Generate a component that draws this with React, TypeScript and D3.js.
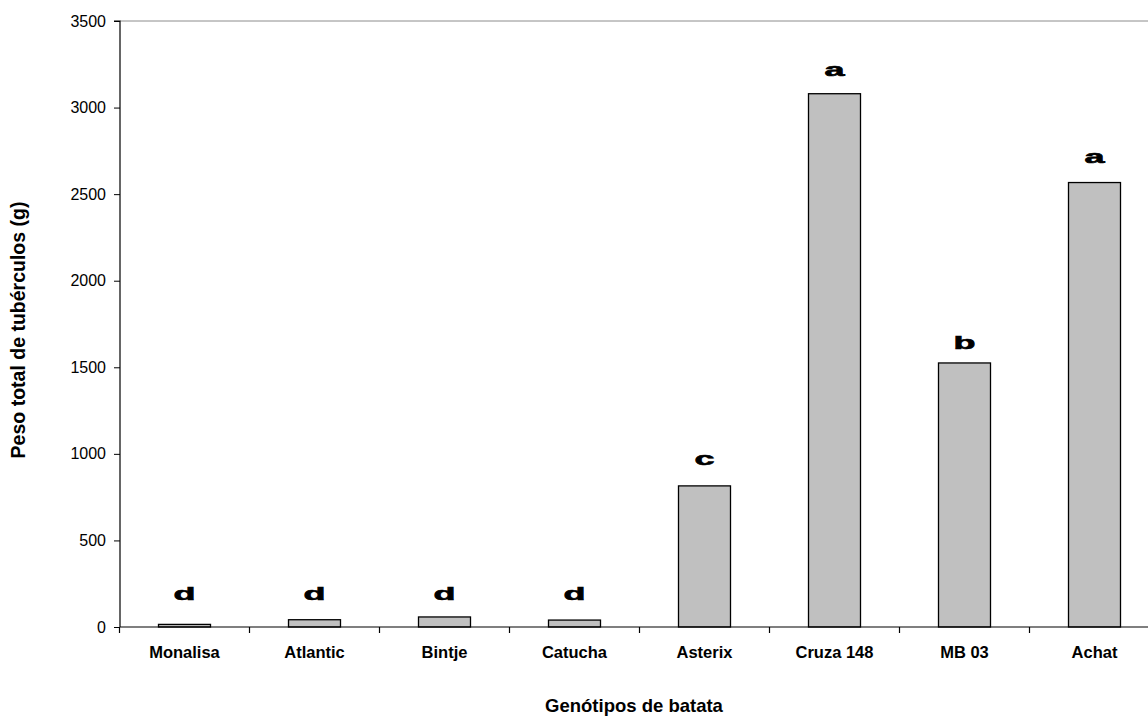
import React, { useEffect, useRef } from "react";
import * as d3 from "d3";

const genotypes = ["Monalisa", "Atlantic", "Bintje", "Catucha", "Asterix", "Cruza 148", "MB 03", "Achat"];
const weights = [15, 42, 58, 40, 815, 3080, 1525, 2567];
const letters = ["d", "d", "d", "d", "c", "a", "b", "a"];
// where each significance letter sits (baseline, in grams)
const letterLevels = [155, 155, 155, 155, 935, 3180, 1605, 2680];
const yTicks = [0, 500, 1000, 1500, 2000, 2500, 3000, 3500];

const FONT = "Liberation Sans, Arial, sans-serif";

const App = () => {
  const chartRef = useRef<SVGSVGElement | null>(null);

  useEffect(() => {
    document.body.style.margin = "0";
    const width = 1148;
    const height = 718;
    const margin = { top: 21, left: 120, bottom: 91 };
    const plotW = 1040; // runs past the right edge, like the original
    const plotBottom = height - margin.bottom;

    const svg = d3.select(chartRef.current);
    svg.selectAll("*").remove();
    svg.attr("width", width).attr("height", height);

    const x = d3.scaleBand().domain(genotypes).range([margin.left - 0.5, margin.left - 0.5 + plotW]);
    const y = d3.scaleLinear().domain([0, 3500]).range([plotBottom, margin.top]);
    const barW = 52;

    // grey top border of plot area
    svg.append("line")
      .attr("x1", margin.left).attr("x2", width)
      .attr("y1", margin.top).attr("y2", margin.top)
      .attr("stroke", "#8c8c8c").attr("stroke-width", 1);

    svg.selectAll("rect.bar")
      .data(weights)
      .enter()
      .append("rect")
      .attr("class", "bar")
      .attr("x", (d, i) => x(genotypes[i])! + x.bandwidth() / 2 - barW / 2)
      .attr("y", (d) => y(d))
      .attr("width", barW)
      .attr("height", (d) => plotBottom - y(d))
      .attr("fill", "#c0c0c0")
      .attr("stroke", "#000")
      .attr("stroke-width", 1.3);

    // y axis
    const yAxis = svg.append("g")
      .attr("transform", `translate(${margin.left},0)`)
      .call(d3.axisLeft(y).tickValues(yTicks).tickSize(6).tickPadding(8).tickFormat(d3.format("d")));
    yAxis.select(".domain").attr("d", `M-6,${margin.top}H0V${plotBottom}`).attr("stroke", "#000").attr("stroke-width", 1.2);
    yAxis.selectAll(".tick line").attr("stroke", "#000");
    yAxis.selectAll("text")
      .attr("font-family", FONT)
      .attr("font-size", 16)
      .attr("fill", "#000");

    // x axis with ticks at category boundaries
    const xAxisG = svg.append("g");
    xAxisG.append("line")
      .attr("x1", margin.left).attr("x2", width)
      .attr("y1", plotBottom).attr("y2", plotBottom)
      .attr("stroke", "#000").attr("stroke-width", 1.2);
    const boundaries = genotypes.map((g) => x(g)!);
    xAxisG.selectAll("line.tick")
      .data(boundaries)
      .enter()
      .append("line")
      .attr("class", "tick")
      .attr("x1", (d) => d).attr("x2", (d) => d)
      .attr("y1", plotBottom).attr("y2", plotBottom + 6)
      .attr("stroke", "#000").attr("stroke-width", 1.2);
    xAxisG.selectAll("text")
      .data(genotypes)
      .enter()
      .append("text")
      .attr("x", (d) => x(d)! + x.bandwidth() / 2)
      .attr("y", plotBottom + 31)
      .attr("text-anchor", "middle")
      .attr("font-family", FONT)
      .attr("font-weight", "bold")
      .attr("font-size", 16.5)
      .text((d) => d);

    // significance letters (wide, heavy)
    svg.selectAll("text.letter")
      .data(letters)
      .enter()
      .append("text")
      .attr("class", "letter")
      .attr("transform", (d, i) => `translate(${x(genotypes[i])! + x.bandwidth() / 2},${y(letterLevels[i])}) scale(1.8,0.9)`)
      .attr("text-anchor", "middle")
      .attr("font-family", FONT)
      .attr("font-weight", "900")
      .attr("font-size", 20)
      .attr("stroke", "#000")
      .attr("stroke-width", 0.7)
      .text((d) => d);

    // axis titles
    svg.append("text")
      .attr("x", 634)
      .attr("y", 712)
      .attr("text-anchor", "middle")
      .attr("font-family", FONT)
      .attr("font-weight", "bold")
      .attr("font-size", 18.5)
      .text("Genótipos de batata");

    svg.append("text")
      .attr("transform", `translate(25,${(margin.top + plotBottom) / 2 + 6}) rotate(-90)`)
      .attr("text-anchor", "middle")
      .attr("font-family", FONT)
      .attr("font-weight", "bold")
      .attr("font-size", 19.5)
      .text("Peso total de tubérculos (g)");
  }, []);

  return (
    <div style={{ width: 1148, height: 718, overflow: "hidden" }}>
      <svg ref={chartRef} style={{ display: "block", background: "#fff" }}></svg>
    </div>
  );
};

export default App;
